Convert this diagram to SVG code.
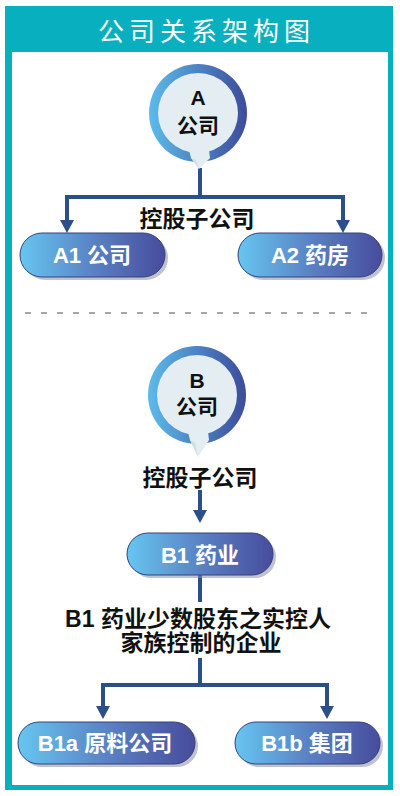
<svg xmlns="http://www.w3.org/2000/svg" width="400" height="796" viewBox="0 0 400 796">
<defs>
<linearGradient id="pillG" x1="0" y1="0" x2="1" y2="0">
<stop offset="0" stop-color="#66c6f0"/>
<stop offset="0.5" stop-color="#5a82c4"/>
<stop offset="1" stop-color="#474c9c"/>
</linearGradient>
<linearGradient id="ringG" x1="0" y1="0" x2="1" y2="0">
<stop offset="0" stop-color="#5cbbea"/>
<stop offset="1" stop-color="#3d4b9b"/>
</linearGradient>
<marker id="ah" viewBox="0 0 14 13" refX="7" refY="12" markerWidth="14" markerHeight="13" orient="auto-start-reverse" markerUnits="userSpaceOnUse">
<path d="M0,0 L14,0 L7,13 Z" fill="#2b4f88" transform="rotate(-90 7 6.5)"/>
</marker>
<style>
.t{font-family:"Liberation Sans","Noto Sans CJK SC",sans-serif;font-weight:bold;fill:#111;text-anchor:middle}
.pt{font-family:"Liberation Sans","Noto Sans CJK SC",sans-serif;font-weight:bold;fill:#fff;text-anchor:middle;font-size:22px}
.pill{fill:url(#pillG);stroke:#34407e;stroke-width:1}
.sh{fill:#8a8fa8;opacity:0.55}
.ln{fill:none;stroke:#2b4f88;stroke-width:4}
.ah{fill:#2b4f88}
.ring{fill:url(#ringG)}
.inner{fill:#e4edf2}
</style>
</defs>
<rect x="0" y="0" width="400" height="796" fill="#fff"/>
<rect x="5" y="6" width="388" height="784" fill="#08b0bf"/>
<rect x="12" y="52" width="376" height="733" fill="#fff"/>
<text x="98" y="41" font-family="Noto Sans CJK SC,sans-serif" font-size="26" letter-spacing="5" fill="#fff">公司关系架构图</text>
<line x1="25" y1="313" x2="375" y2="313" stroke="#888" stroke-width="1.3" stroke-dasharray="6,10"/>

<g id="connectors">
<path class="ln" d="M200,168 V197 M67,197 H343 M67,195 V222 M343,195 V222"/>
<path class="ah" d="M60,220 L74,220 L67,233 Z"/>
<path class="ah" d="M336,220 L350,220 L343,233 Z"/>
<path class="ln" d="M200,490 V512"/>
<path class="ah" d="M193,510 L207,510 L200,523 Z"/>
<path class="ln" d="M200,575 V602 M200,658 V685 M103,685 H327 M103,683 V708 M327,683 V708"/>
<path class="ah" d="M96,706 L110,706 L103,719 Z"/>
<path class="ah" d="M320,706 L334,706 L327,719 Z"/>
</g>

<g id="nodeA">
<circle class="ring" cx="198" cy="113" r="49"/>
<circle class="inner" cx="198" cy="113" r="40"/>
<path class="inner" d="M189,150 L209,150 L210,158 L199,169 L191,158 Z"/>
<path d="M191,158 L199,169 L196,160 Z" fill="#cfdde6"/>
<text class="t" x="198" y="105" font-size="21">A</text>
<text class="t" x="198" y="133" font-size="21">公司</text>
</g>
<text class="t" x="197" y="227" font-size="23">控股子公司</text>

<g id="nodeA1">
<rect class="sh" x="23" y="236" width="145" height="44" rx="22"/>
<rect class="pill" x="20" y="233" width="145" height="44" rx="22"/>
<text class="pt" x="92" y="263">A1 公司</text>
</g>
<g id="nodeA2">
<rect class="sh" x="241" y="236" width="144" height="44" rx="22"/>
<rect class="pill" x="238" y="233" width="144" height="44" rx="22"/>
<text class="pt" x="310" y="263">A2 药房</text>
</g>

<g id="nodeB">
<circle class="ring" cx="197" cy="395" r="49"/>
<circle class="inner" cx="197" cy="395" r="40"/>
<path class="inner" d="M188,432 L208,432 L209,440 L198,457 L190,440 Z"/>
<path d="M190,440 L198,457 L195,443 Z" fill="#cfdde6"/>
<text class="t" x="197" y="388" font-size="21">B</text>
<text class="t" x="197" y="414" font-size="21">公司</text>
</g>
<text class="t" x="200" y="486" font-size="23">控股子公司</text>

<g id="nodeB1">
<rect class="sh" x="130" y="536" width="146" height="42" rx="21"/>
<rect class="pill" x="127" y="533" width="146" height="42" rx="21"/>
<text class="pt" x="200" y="563">B1 药业</text>
</g>
<text class="t" x="198" y="627" font-size="23">B1 药业少数股东之实控人</text>
<text class="t" x="201" y="651" font-size="23">家族控制的企业</text>

<g id="nodeB1a">
<rect class="sh" x="21" y="725" width="177" height="42" rx="21"/>
<rect class="pill" x="18" y="722" width="177" height="42" rx="21"/>
<text class="pt" x="105" y="751">B1a 原料公司</text>
</g>
<g id="nodeB1b">
<rect class="sh" x="238" y="725" width="145" height="42" rx="21"/>
<rect class="pill" x="235" y="722" width="145" height="42" rx="21"/>
<text class="pt" x="307" y="751">B1b 集团</text>
</g>
</svg>
